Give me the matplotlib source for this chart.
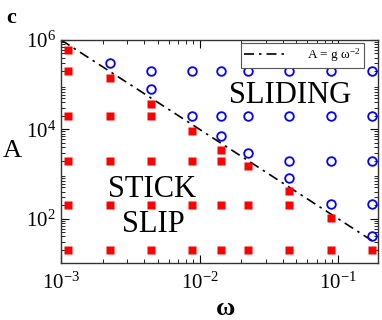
# Phase diagram of stick-slip vs sliding in the (omega, A) plane.
import matplotlib
matplotlib.use('Agg')
import matplotlib.pyplot as plt
import numpy as np

plt.rcParams['font.family'] = ['Liberation Serif', 'DejaVu Serif']
plt.rcParams['mathtext.fontset'] = 'custom'
plt.rcParams['mathtext.rm'] = 'Liberation Serif'
plt.rcParams['mathtext.it'] = 'Liberation Serif:italic'

# stick-slip points (red squares)
stick_w = [1.12e-3, 1.12e-3, 1.12e-3, 1.12e-3, 1.12e-3, 1.12e-3,
           2.24e-3, 2.24e-3, 2.24e-3, 2.24e-3, 2.24e-3,
           4.49e-3, 4.49e-3, 4.49e-3, 4.49e-3, 4.49e-3,
           8.86e-3, 8.86e-3, 8.86e-3, 8.86e-3,
           1.44e-2, 1.44e-2, 1.44e-2, 1.44e-2,
           2.23e-2, 2.23e-2, 2.23e-2,
           4.46e-2, 4.46e-2, 4.46e-2,
           8.91e-2, 8.91e-2,
           0.176]
stick_A = [6.1e5, 2e5, 2e4, 2e3, 2e2, 20,
           1.44e5, 2e4, 2e3, 2e2, 20,
           3.77e4, 2e4, 2e3, 2e2, 20,
           9.3e3, 2e3, 2e2, 20,
           3.4e3, 2e3, 2e2, 20,
           1.55e3, 2e2, 20,
           408, 2e2, 20,
           103, 20,
           20]

# sliding points (blue open circles)
slide_w = [2.24e-3,
           4.49e-3, 4.49e-3,
           8.86e-3, 8.86e-3,
           1.44e-2, 1.44e-2, 1.44e-2,
           2.23e-2, 2.23e-2, 2.23e-2,
           4.46e-2, 4.46e-2, 4.46e-2, 4.46e-2,
           8.91e-2, 8.91e-2, 8.91e-2, 8.91e-2,
           0.176, 0.176, 0.176, 0.176, 0.176]
slide_A = [3.07e5,
           2e5, 8.2e4,
           2e5, 2e4,
           2e5, 2e4, 7.1e3,
           2e5, 2e4, 3.0e3,
           2e5, 2e4, 2e3, 826,
           2e5, 2e4, 2e3, 208,
           2e5, 2e4, 2e3, 208, 40.6]

# boundary A = g omega^-2
g = 1.0
line_w = np.logspace(-3, np.log10(0.184), 50)

fig = plt.figure(figsize=(3.82, 3.2), dpi=100)
ax = fig.add_axes([0.160, 0.177, 0.830, 0.698])

ax.plot(line_w, g * line_w ** -2, color='black', lw=1.2,
        dashes=(6, 3, 1.5, 3), label='A = g ω$^{-2}$', zorder=2)
ax.plot(stick_w, stick_A, 's', color='red', ms=5.2, mec='none', zorder=3)
ax.plot(slide_w, slide_A, 'o', mfc='none', mec='blue', mew=1.3, ms=6.2, zorder=3)

ax.set_xscale('log')
ax.set_yscale('log')
ax.set_xlim(1e-3, 0.195)
ax.set_ylim(10, 1e6)
ax.set_yticks([1e2, 1e4, 1e6])
ax.set_xticks([1e-3, 1e-2, 1e-1])
ax.tick_params(which='both', direction='in', top=True, right=True, labelsize=15)
ax.tick_params(which='major', length=6, width=0.8, pad=4)
ax.tick_params(which='minor', length=3, width=0.6)
ax.tick_params(axis='x', which='major', pad=7)
for s in ax.spines.values():
    s.set_linewidth(1.0)
    s.set_color('#333333')

ax.set_xlabel('ω', fontsize=19, fontweight='bold', va='baseline')
ax.xaxis.set_label_coords(0.52, -0.23)
ax.set_ylabel('A', fontsize=19, rotation=0)
ax.yaxis.set_label_coords(-0.155, 0.455)

ax.text(0.722, 0.719, 'SLIDING', transform=ax.transAxes, fontsize=22,
        ha='center', va='baseline')
ax.text(0.2855, 0.298, 'STICK', transform=ax.transAxes, fontsize=22,
        ha='center', va='baseline')
ax.text(0.291, 0.1415, 'SLIP', transform=ax.transAxes, fontsize=22,
        ha='center', va='baseline')

fig.text(0.029, 0.975, 'c', fontsize=16, fontweight='bold', va='top', ha='center')

leg = ax.legend(loc='upper right', bbox_to_anchor=(0.956, 0.985), fontsize=9.5,
                frameon=True, fancybox=False, framealpha=1, edgecolor='#555555',
                handlelength=3.2, handletextpad=1.6, borderpad=0.25, borderaxespad=0)
leg.get_frame().set_linewidth(0.8)

fig.savefig('out.png', dpi=100)
